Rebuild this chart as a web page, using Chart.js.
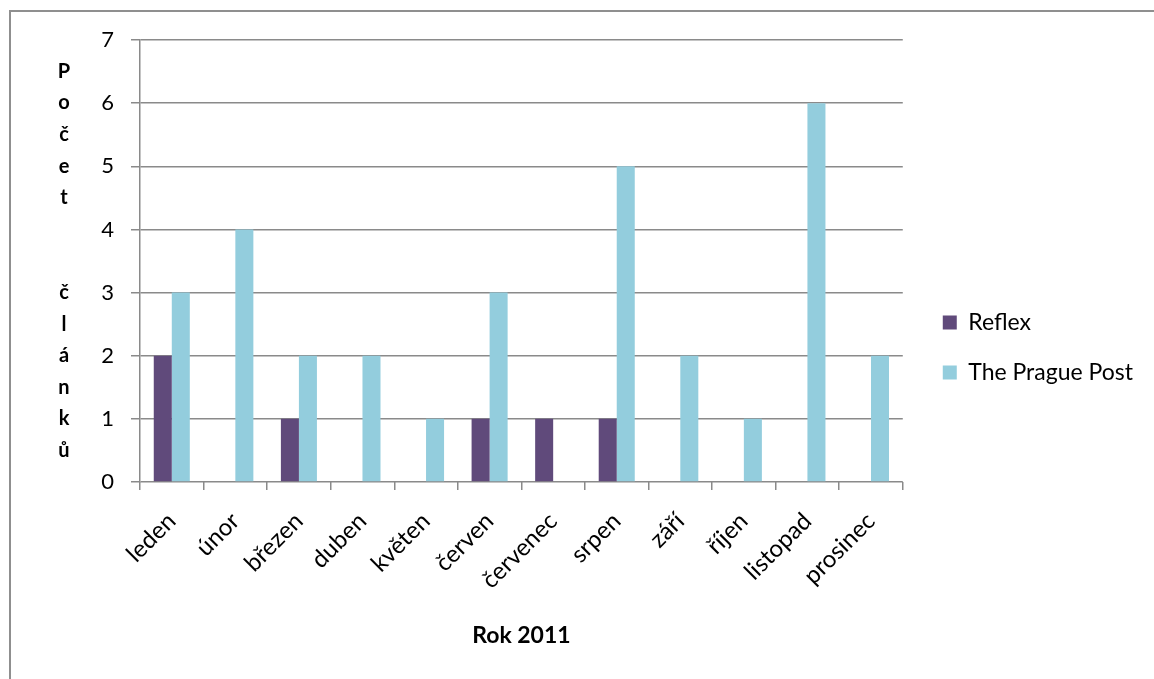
<!DOCTYPE html>
<html>
<head>
<meta charset="utf-8">
<script src="https://cdn.jsdelivr.net/npm/chart.js@4"></script>
<style>
  html, body { margin: 0; padding: 0; background: #fff; overflow: hidden; }
  #frame { position: absolute; left: 9px; top: 10px; width: 1300px; height: 900px; border: 2px solid #8f8f8f; }
  #wrap { position: absolute; left: 0; top: 0; width: 1154px; height: 679px; }
</style>
</head>
<body>
<div id="frame"></div>
<div id="wrap"><canvas id="myChart"></canvas></div>
<script>
var months = ['leden', 'únor', 'březen', 'duben', 'květen', 'červen', 'červenec', 'srpen', 'září', 'říjen', 'listopad', 'prosinec'];
var reflex = [2, 0, 1, 0, 0, 1, 1, 1, 0, 0, 0, 0];
var praguePost = [3, 4, 2, 2, 1, 3, 0, 5, 2, 1, 6, 2];
var yTitle = ['P', 'o', 'č', 'e', 't', '', '', 'č', 'l', 'á', 'n', 'k', 'ů'];
var xTitle = 'Rok 2011';

var FONT = 'Lato, "Open Sans", sans-serif';

// y axis title is written one letter under another
var stackedTitle = {
    id: 'stackedTitle',
    afterLayout(chart) {
        // legend sits a bit further from the plot than chart.js puts it
        const lg = chart.legend;
        lg.left += 13; lg.right += 13;
        lg.top += 3; lg.bottom += 3;
    },
    afterDraw(chart) {
        const ctx = chart.ctx;
        const area = chart.chartArea;
        const step = 31.6;
        const mid = (area.top + area.bottom) / 2;
        const start = mid - step * (yTitle.length - 1) / 2;
        ctx.save();
        ctx.font = 'bold 20px ' + FONT;
        ctx.fillStyle = '#000';
        ctx.textAlign = 'center';
        ctx.textBaseline = 'middle';
        yTitle.forEach((ch, i) => ctx.fillText(ch, 64, start + i * step));
        ctx.restore();
    }
};

const ctx = document.getElementById('myChart').getContext('2d');
new Chart(ctx, {
    type: 'bar',
    data: {
        labels: months,
        datasets: [
            { label: 'Reflex', data: reflex, backgroundColor: '#604a7b', borderWidth: 0 },
            { label: 'The Prague Post', data: praguePost, backgroundColor: '#93cddd', borderWidth: 0 }
        ]
    },
    options: {
        responsive: true,
        maintainAspectRatio: false,
        animation: false,
        events: [],
        layout: { padding: { top: 40, right: 24, bottom: 30, left: 0 } },
        datasets: { bar: { categoryPercentage: 0.567, barPercentage: 1 } },
        plugins: {
            legend: {
                position: 'right',
                labels: {
                    boxWidth: 14,
                    boxHeight: 14,
                    padding: 27,
                    color: '#000',
                    font: { family: FONT, size: 23 }
                }
            },
            tooltip: { enabled: false }
        },
        scales: {
            x: {
                offset: true,
                afterFit(scale) { scale.height = 679 - 30 - 482; },
                grid: { offset: true, drawOnChartArea: false, drawTicks: true, tickLength: 8, color: '#8a8a8a', lineWidth: 1.5 },
                border: { display: false },
                ticks: { color: '#000', font: { family: FONT, size: 24 }, maxRotation: 45, minRotation: 45, padding: 17 },
                title: { display: true, text: xTitle, color: '#000', font: { family: FONT, size: 23, weight: 'bold' }, padding: { top: 20, bottom: 0 } }
            },
            y: {
                min: 0,
                max: 7,
                afterFit(scale) { scale.width = 140; },
                grid: { color: '#8a8a8a', lineWidth: 1.5, tickLength: 9 },
                border: { display: true, color: '#8a8a8a', width: 1.5 },
                ticks: { stepSize: 1, color: '#000', font: { family: FONT, size: 22 }, padding: 17 }
            }
        }
    },
    plugins: [stackedTitle]
});
</script>
</body>
</html>
